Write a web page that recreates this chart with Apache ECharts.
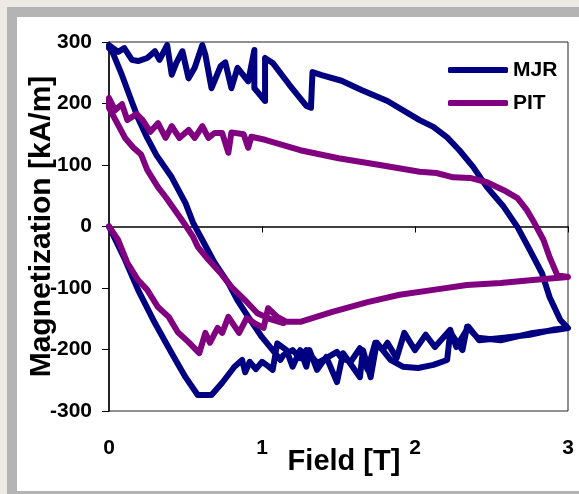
<!DOCTYPE html>
<html>
<head>
<meta charset="utf-8">
<script src="https://cdn.jsdelivr.net/npm/echarts@6/dist/echarts.min.js"></script>
<style>
  html, body { margin: 0; padding: 0; background: #ede9e5; }
  #chart { width: 579px; height: 494px; }
</style>
</head>
<body>
<div id="chart"></div>
<script>
// MJR loop: field [T] and magnetization [kA/m]
var mjrField = [
  0, 0.105, 0.19, 0.30, 0.41, 0.50, 0.58, 0.67, 0.74, 0.82, 0.87, 0.89, 0.92, 0.96, 1.00, 1.04, 1.07, 1.10,
  1.16, 1.20, 1.25, 1.29, 1.31, 1.36, 1.42, 1.49, 1.53, 1.64, 1.66, 1.71, 1.75, 1.84, 1.92, 2.02, 2.12, 2.21,
  2.23, 2.31, 2.34, 2.41, 2.56, 2.77, 2.93, 3.00,
  2.95, 2.88, 2.83, 2.75, 2.67, 2.58, 2.47, 2.38, 2.29, 2.21, 2.12, 2.03, 1.82, 1.65, 1.52, 1.39, 1.33, 1.32,
  1.29, 1.18, 1.07, 1.02, 1.02, 0.95, 0.95, 0.91, 0.84, 0.80, 0.76, 0.73, 0.67, 0.63, 0.61, 0.56, 0.52, 0.48,
  0.44, 0.41, 0.38, 0.33, 0.30, 0.25, 0.19, 0.15, 0.10, 0.06, 0.00,
  0.00, 0.02, 0.085, 0.14, 0.19, 0.25, 0.31, 0.41, 0.50, 0.55, 0.61, 0.69, 0.78, 0.84, 0.91, 1.00, 1.07, 1.12,
  1.14, 1.20, 1.25, 1.29, 1.36, 1.42, 1.49, 1.52, 1.58, 1.64, 1.69, 1.74, 1.79, 1.82, 1.88, 1.93, 2.00, 2.07,
  2.13, 2.23, 2.27, 2.35, 2.42, 2.58, 2.75, 2.90, 2.99
];
var mjrMag = [
  0, -54, -103, -157, -206, -245, -274, -274, -254, -228, -217, -237, -220, -232, -220, -227, -233, -190,
  -201, -228, -201, -228, -201, -233, -212, -253, -206, -245, -201, -245, -189, -217, -228, -230, -225, -217,
  -172, -201, -163, -181, -185, -173, -168, -165,
  -152, -115, -76, -38, -1, 32, 64, 97, 124, 145, 162, 173, 204, 222, 237, 246, 251, 193,
  196, 230, 266, 274, 204, 225, 287, 236, 258, 225, 267, 261, 225, 279, 295, 258, 241, 285,
  266, 247, 295, 271, 285, 274, 269, 271, 290, 284, 295,
  290, 285, 246, 209, 176, 144, 116, 80, 38, 6, -22, -59, -92, -120, -147, -180, -201, -217,
  -209, -201, -214, -201, -222, -214, -204, -214, -220, -198, -233, -189, -201, -189, -214, -173, -201, -176,
  -196, -168, -196, -163, -185, -181, -176, -168, -165
];

// PIT loop
var pitField = [
  0, 0.06, 0.12, 0.19, 0.25, 0.32, 0.39, 0.45, 0.52, 0.59, 0.63, 0.66, 0.71, 0.74, 0.78, 0.85, 0.90, 0.95,
  1.01, 1.04, 1.10, 1.16, 1.25, 1.46, 1.69, 1.90, 2.12, 2.34, 2.56, 2.77, 3.00,
  2.93, 2.88, 2.84, 2.78, 2.73, 2.67, 2.58, 2.47, 2.36, 2.25, 2.14, 2.03, 1.77, 1.50, 1.25, 1.02, 0.93, 0.91,
  0.88, 0.80, 0.78, 0.74, 0.69, 0.65, 0.61, 0.56, 0.52, 0.46, 0.41, 0.37, 0.32, 0.27, 0.22, 0.18, 0.12, 0.085,
  0.04, 0.00,
  0.00, 0.06, 0.105, 0.16, 0.21, 0.25, 0.32, 0.37, 0.43, 0.50, 0.55, 0.58, 0.65, 0.73, 0.80, 0.89, 0.97, 1.07,
  1.14
];
var pitMag = [
  0, -22, -59, -87, -103, -131, -147, -172, -188, -206, -173, -189, -165, -173, -147, -173, -149, -157,
  -165, -133, -147, -155, -155, -139, -123, -111, -103, -95, -92, -87, -82,
  -79, -50, -22, 6, 27, 46, 59, 72, 79, 80, 87, 89, 100, 111, 124, 141, 146, 128,
  150, 153, 120, 152, 152, 144, 163, 144, 157, 144, 163, 144, 168, 154, 173, 183, 173, 199,
  189, 209,
  193, 165, 144, 128, 117, 92, 64, 48, 27, 2, -17, -33, -54, -76, -98, -120, -141, -152,
  -157
];

var seriesNames = ['MJR', 'PIT'];
var seriesColors = ['#000080', '#800080'];
var fieldTicks = [0, 1, 2, 3];
var magTicks = [-300, -200, -100, 0, 100, 200, 300];

function pairs(xs, ys) {
  var out = [];
  for (var i = 0; i < xs.length; i++) out.push([xs[i], ys[i]]);
  return out;
}

var chart = echarts.init(document.getElementById('chart'));
var font = '"Liberation Sans", Arial, sans-serif';

function loopSeries(i, xs, ys) {
  return {
    name: seriesNames[i],
    type: 'line',
    data: pairs(xs, ys),
    showSymbol: false,
    symbol: 'none',
    itemStyle: { color: seriesColors[i] },
    lineStyle: { width: 6, color: seriesColors[i], cap: 'round', join: 'round' }
  };
}

var option = {
  backgroundColor: '#ede9e5',
  animation: false,
  graphic: [
    { type: 'rect', z: -10, silent: true, shape: { x: 7, y: 7, width: 572, height: 487 }, style: { fill: '#b4b4b4' } },
    { type: 'rect', z: -9, silent: true, shape: { x: 17, y: 17, width: 562, height: 474 }, style: { fill: '#ffffff' } }
  ],
  grid: {
    left: 109, right: 11, top: 42, bottom: 83,
    show: true, borderColor: '#222', borderWidth: 1
  },
  legend: {
    orient: 'vertical',
    left: 448, top: 59,
    padding: 0,
    icon: 'roundRect',
    itemWidth: 60, itemHeight: 6,
    itemGap: 11,
    data: seriesNames,
    textStyle: { fontFamily: font, fontWeight: 'bold', fontSize: 21, color: '#000', lineHeight: 22 }
  },
  xAxis: {
    type: 'value',
    min: 0, max: 3, interval: 1,
    name: 'Field [T]',
    nameLocation: 'middle',
    nameGap: 36,
    nameMoveOverlap: false,
    nameTextStyle: { fontFamily: font, fontWeight: 'bold', fontSize: 29, color: '#000', padding: [0, 0, 0, 11] },
    axisLine: { lineStyle: { color: '#000', width: 1.5 } },
    axisTick: { length: 6, lineStyle: { color: '#000' } },
    splitLine: { show: false },
    axisLabel: {
      margin: 27,
      fontFamily: font, fontWeight: 'bold', fontSize: 21, color: '#000',
      formatter: function (v) { return fieldTicks.indexOf(v) >= 0 ? String(v) : ''; }
    }
  },
  yAxis: {
    type: 'value',
    min: -300, max: 300, interval: 100,
    name: 'Magnetization [kA/m]',
    nameLocation: 'middle',
    nameRotate: 90,
    nameGap: 52,
    nameMoveOverlap: false,
    nameTextStyle: { fontFamily: font, fontWeight: 'bold', fontSize: 30, color: '#000' },
    axisLine: { show: true, lineStyle: { color: '#000', width: 1.5 } },
    axisTick: { show: true, length: 7, lineStyle: { color: '#000' } },
    splitLine: { show: false },
    axisLabel: {
      margin: 17,
      fontFamily: font, fontWeight: 'bold', fontSize: 21, color: '#000',
      formatter: function (v) { return magTicks.indexOf(v) >= 0 ? String(v) : ''; }
    }
  },
  series: [
    loopSeries(0, mjrField, mjrMag),
    loopSeries(1, pitField, pitMag)
  ]
};

chart.setOption(option);
</script>
</body>
</html>
